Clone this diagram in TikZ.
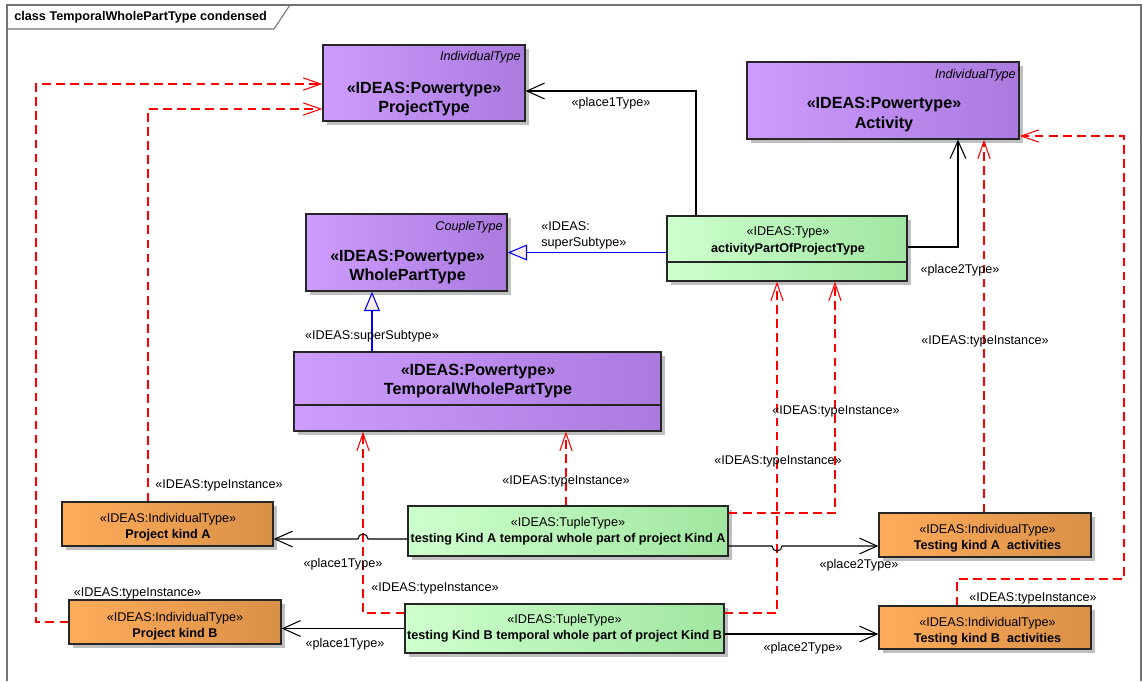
\documentclass[tikz,border=0pt]{standalone}
\usepackage{fontspec}
\setmainfont{Liberation Sans}
\usepackage{tikz}
\usetikzlibrary{arrows.meta,shadows}
\definecolor{pleft}{RGB}{206,156,255}
\definecolor{pright}{RGB}{170,122,222}
\definecolor{gleft}{RGB}{206,255,206}
\definecolor{gright}{RGB}{160,230,160}
\definecolor{oleft}{RGB}{255,172,90}
\definecolor{oright}{RGB}{216,144,72}
\definecolor{genfill}{RGB}{250,240,230}

\begin{document}
\begin{tikzpicture}[
			x = 0.02cm, y = -0.02cm,
			box/.style = {draw=black!85, line width=0.8pt, inner sep=0pt,
				drop shadow={shadow xshift=0.08cm, shadow yshift=-0.08cm, fill=black!25, opacity=1}},
			ptype/.style = {box, left color=pleft, middle color=pleft!85!pright, right color=pright},
			gtype/.style = {box, left color=gleft, middle color=gleft!85!gright, right color=gright},
			otype/.style = {box, left color=oleft, middle color=oleft!85!oright, right color=oright},
			head/.style = {font=\fontsize{9.2}{11.3}\selectfont\bfseries, align=center, inner sep=0pt},
			small/.style = {font=\fontsize{7.2}{9}\selectfont, align=center, inner sep=0pt},
			tag/.style = {font=\fontsize{7.2}{9}\selectfont\itshape, anchor=east, inner sep=0pt},
			sep/.style = {draw=black!85, line width=0.8pt},
			frame/.style = {draw=black!55, line width=1pt},
			assoc/.style = {draw=black, line width=0.6pt, -{Straight Barb[length=10pt,width=9pt]}},
			inst/.style = {draw=red, line width=0.6pt, dash pattern=on 5pt off 3pt, -{Straight Barb[length=10pt,width=7pt]}},
			gen/.style = {draw=blue, line width=0.6pt, -{Triangle[length=11pt,width=9pt,fill=genfill]}}
			]
			\useasboundingbox (0,0) rectangle (1143,681);

			\draw[frame] (7,681) -- (7,5) -- (1141,5) -- (1141,681);
			\draw[frame,line width=0.6pt] (7,29) -- (274,29) -- (290,5);
			\node[font=\fontsize{7.2}{9}\selectfont\bfseries, anchor=west, inner sep=0pt] (title) at (14,17) {class TemporalWholePartType condensed};

			\node[ptype, minimum width=4.04cm, minimum height=1.52cm] (projtype) at (424,83) {};
			\node[ptype, minimum width=5.44cm, minimum height=1.54cm] (activity) at (883,100.5) {};
			\node[gtype, minimum width=4.8cm, minimum height=1.3cm] (actpart) at (787,248.5) {};
			\node[ptype, minimum width=4.02cm, minimum height=1.54cm] (wholepart) at (406.5,252.5) {};
			\node[ptype, minimum width=7.34cm, minimum height=1.58cm] (twpart) at (477.5,391.5) {};
			\node[otype, minimum width=4.22cm, minimum height=0.88cm] (projA) at (167.5,524) {};
			\node[otype, minimum width=4.24cm, minimum height=0.88cm] (projB) at (175,622) {};
			\node[gtype, minimum width=6.4cm, minimum height=1cm] (tupA) at (568,531) {};
			\node[gtype, minimum width=6.38cm, minimum height=0.98cm] (tupB) at (564.5,628.5) {};
			\node[otype, minimum width=4.24cm, minimum height=0.88cm] (testA) at (985,535) {};
			\node[otype, minimum width=4.24cm, minimum height=0.86cm] (testB) at (985,627.5) {};

			\coordinate (sepA) at (0,262);
			\coordinate (sepB) at (0,405);
			\draw[sep] (actpart.west |- sepA) -- (actpart.east |- sepA);
			\draw[sep] (twpart.west |- sepB) -- (twpart.east |- sepB);

			\node[head] (projtype-t) at (424,99) {«IDEAS:Powertype»\\ProjectType};
			\node[tag] (projtype-k) at (521,57) {IndividualType};
			\node[head] (activity-t) at (884,114.5) {«IDEAS:Powertype»\\Activity};
			\node[tag] (activity-k) at (1016,75) {IndividualType};
			\node[head] (wholepart-t) at (407.5,267) {«IDEAS:Powertype»\\WholePartType};
			\node[tag] (wholepart-k) at (503,227) {CoupleType};
			\node[head] (twpart-t) at (478,381) {«IDEAS:Powertype»\\TemporalWholePartType};
			\node[small, font=\fontsize{7.2}{9.4}\selectfont] (actpart-t) at (788,241) {«IDEAS:Type»\\\textbf{activityPartOfProjectType}};
			\node[small] (projA-t) at (168,527) {«IDEAS:IndividualType»\\\textbf{Project kind A}};
			\node[small] (projB-t) at (175,626) {«IDEAS:IndividualType»\\\textbf{Project kind B}};
			\node[small] (tupA-t) at (568,531) {«IDEAS:TupleType»\\\textbf{testing Kind A temporal whole part of project Kind A}};
			\node[small] (tupB-t) at (564.5,628) {«IDEAS:TupleType»\\\textbf{testing Kind B temporal whole part of project Kind B}};
			\node[small] (testA-t) at (987.5,538) {«IDEAS:IndividualType»\\\textbf{Testing kind A\ \ activities}};
			\node[small] (testB-t) at (987.5,631) {«IDEAS:IndividualType»\\\textbf{Testing kind B\ \ activities}};

			\coordinate (c1) at (696,91);
			\coordinate (c2) at (958,247);
			\coordinate (c3) at (372,0);
			\draw[assoc] (actpart.north -| c1) |- (projtype.east |- c1);
			\draw[assoc] (actpart.east |- c2) -| (activity.south -| c2);
			\draw[gen] (actpart.west |- wholepart.east) -- (wholepart.east);
			\draw[gen] (twpart.north -| c3) -- (wholepart.south -| c3);

			\coordinate (t1) at (148,109);
			\coordinate (t2) at (36,84);
			\coordinate (t3) at (566,0);
			\coordinate (t4) at (363,613);
			\coordinate (t5) at (835,513);
			\coordinate (t6) at (777,613);
			\coordinate (t7) at (984,0);
			\coordinate (t8) at (957,579);
			\coordinate (t9) at (1124,136);
			\draw[inst] (projA.north -| t1) |- (projtype.west |- t1);
			\draw[inst] (projB.west) -| (t2) -- (projtype.west |- t2);
			\draw[inst] (tupA.north -| t3) -- (twpart.south -| t3);
			\draw[inst] (tupB.west |- t4) -| (twpart.south -| t4);
			\draw[inst] (tupA.east |- t5) -| (actpart.south -| t5);
			\draw[inst] (tupB.east |- t6) -| (actpart.south -| t6);
			\draw[inst] (testA.north -| t7) -- (activity.south -| t7);
			\draw[inst] (testB.north -| t8) -- (t8) -| (t9) -- (activity.east |- t9);

			\coordinate (h1) at (363,539);
			\coordinate (h2) at (777,546);
			\coordinate (h4) at (0,634);
			\draw[assoc] (tupA.west |- h1) -- ([xshift=0.1cm]h1) arc[start angle=0, end angle=180, radius=0.1cm] -- (projA.east |- h1);
			\draw[assoc] (tupA.east |- h2) -- ([xshift=-0.1cm]h2) arc[start angle=180, end angle=360, radius=0.1cm] -- (testA.west |- h2);
			\draw[assoc] (tupB.west) -- (projB.east |- tupB.west);
			\draw[assoc] (tupB.east |- h4) -- (testB.west |- h4);

			\node[small] (l1) at (611,103) {«place1Type»};
			\node[small] (l2) at (960,270) {«place2Type»};
			\node[small, align=left, anchor=west] (l3) at (541,235.5) {«IDEAS:\\superSubtype»};
			\node[small] (l4) at (372,336) {«IDEAS:superSubtype»};
			\node[small] (l5) at (219,485) {«IDEAS:typeInstance»};
			\node[small] (l6) at (137.5,593) {«IDEAS:typeInstance»};
			\node[small] (l7) at (566,481) {«IDEAS:typeInstance»};
			\node[small] (l8) at (435,588) {«IDEAS:typeInstance»};
			\node[small] (l9) at (836,411) {«IDEAS:typeInstance»};
			\node[small] (l10) at (778,461) {«IDEAS:typeInstance»};
			\node[small] (l11) at (985,341) {«IDEAS:typeInstance»};
			\node[small] (l12) at (1033,598) {«IDEAS:typeInstance»};
			\node[small] (l13) at (343,564) {«place1Type»};
			\node[small] (l14) at (345,644) {«place1Type»};
			\node[small] (l15) at (859,565) {«place2Type»};
			\node[small] (l16) at (803,648) {«place2Type»};

		\end{tikzpicture}
\end{document}
